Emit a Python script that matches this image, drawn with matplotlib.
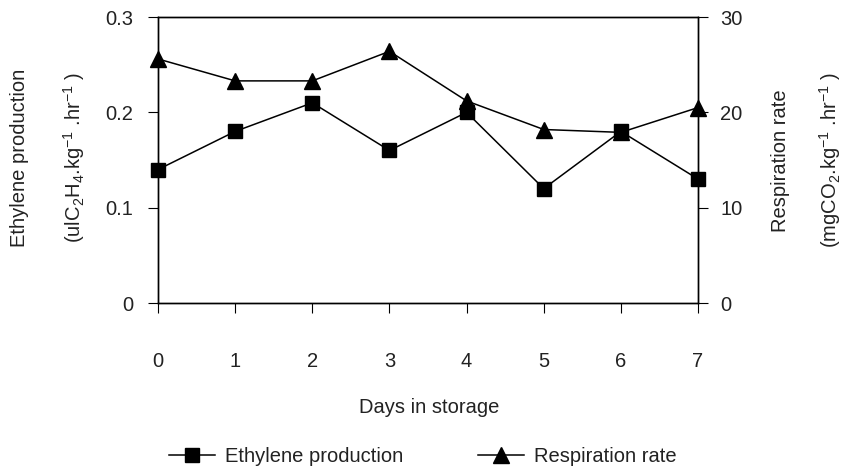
import matplotlib
matplotlib.use('Agg')
import matplotlib.pyplot as plt

plt.rcParams['font.family'] = ['Liberation Sans', 'DejaVu Sans']
plt.rcParams['mathtext.fontset'] = 'custom'
plt.rcParams['mathtext.rm'] = 'Liberation Sans'
plt.rcParams['mathtext.it'] = 'Liberation Sans'
plt.rcParams['mathtext.default'] = 'regular'

days = [0, 1, 2, 3, 4, 5, 6, 7]
ethylene = [0.14, 0.18, 0.21, 0.16, 0.20, 0.12, 0.18, 0.13]
respiration = [25.6, 23.3, 23.3, 26.4, 21.2, 18.2, 17.9, 20.5]

fs = 14.5
txt = '#222222'

fig = plt.figure(figsize=(8.46, 4.70), dpi=100)
ax = fig.add_axes([0.1868, 0.3553, 0.8251 - 0.1868, 0.9638 - 0.3553])
ax2 = ax.twinx()

l1, = ax.plot(days, ethylene, color='black', lw=1.1, marker='s', ms=9.5,
              label='Ethylene production', clip_on=False, zorder=3)
l2, = ax2.plot(days, respiration, color='black', lw=1.1, marker='^', ms=12,
               label='Respiration rate', clip_on=False, zorder=3)

ax.set_xlim(0, 7)
ax.set_ylim(0, 0.3)
ax2.set_ylim(0, 30)
ax.set_xticks(days)
ax.set_yticks([0, 0.1, 0.2, 0.3])
ax.set_yticklabels(['0', '0.1', '0.2', '0.3'])
ax2.set_yticks([0, 10, 20, 30])

for a in (ax, ax2):
    for s in a.spines.values():
        s.set_linewidth(1.0)

ax.tick_params(axis='x', direction='out', length=7, pad=28, labelsize=fs,
               labelcolor=txt)
ax.tick_params(axis='y', direction='out', length=7, pad=11, labelsize=fs,
               labelcolor=txt)
ax2.tick_params(axis='y', direction='out', length=7, pad=9, labelsize=fs,
                labelcolor=txt)

fig.text(0.507, 0.132, 'Days in storage', fontsize=fs, color=txt,
         ha='center', va='center')

fig.text(0.0236, 0.665, 'Ethylene production', rotation=90, fontsize=fs,
         color=txt, ha='center', va='center')
fig.text(0.088, 0.665, r'(ulC$_2$H$_4$.kg$^{-1}$ .hr$^{-1}$ )', rotation=90,
         fontsize=fs, color=txt, ha='center', va='center')
fig.text(0.923, 0.658, 'Respiration rate', rotation=90, fontsize=fs,
         color=txt, ha='center', va='center')
fig.text(0.981, 0.66, r'(mgCO$_2$.kg$^{-1}$ .hr$^{-1}$ )', rotation=90,
         fontsize=fs, color=txt, ha='center', va='center')

leg = fig.legend(handles=[l1, l2], loc='center', bbox_to_anchor=(0.50, 0.028),
                 ncol=2, frameon=False, fontsize=fs, handlelength=2.3,
                 columnspacing=3.7, handletextpad=0.5, borderaxespad=0,
                 borderpad=0)
for t in leg.get_texts():
    t.set_color(txt)

fig.savefig('out.png', dpi=100)
